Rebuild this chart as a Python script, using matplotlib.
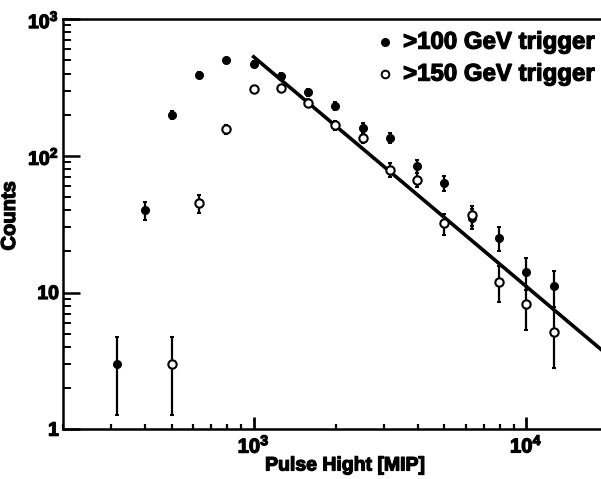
import numpy as np
import matplotlib.pyplot as plt
import matplotlib.patheffects as pe
from matplotlib.ticker import FixedLocator, LogLocator, NullFormatter

# bin centres of the pulse-height histogram [MIP]
pulse_100 = [316, 398, 501, 631, 794, 1000, 1259, 1585, 1995, 2512,
             3162, 3981, 5012, 6310, 7943, 10000, 12589]
counts_100 = [3.0, 40, 199, 390, 500, 470, 384, 293, 232, 160,
              135, 84, 63, 35, 25, 14.2, 11.1]
err_100 = [1.73, 6.3, 14, 20, 22, 22, 20, 17, 15, 12.6,
           11.6, 9.2, 7.9, 5.9, 5.0, 3.8, 3.3]

pulse_150 = [501, 631, 794, 1000, 1259, 1585, 1995, 2512,
             3162, 3981, 5012, 6310, 7943, 10000, 12589]
counts_150 = [3.0, 45, 157, 308, 313, 244, 168, 135,
              79, 67, 32, 37, 12.0, 8.2, 5.1]
err_150 = [1.73, 6.7, 12.5, 17.5, 17.7, 15.6, 13, 11.6,
           8.9, 8.2, 5.7, 6.1, 3.5, 2.9, 2.3]

# power-law fit above 1000 MIP
fit_norm = 530.0     # counts at 1000 MIP
fit_index = -1.68
fit_range = (1000, 18800)

labels = [">100 GeV trigger", ">150 GeV trigger"]

plt.rcParams['font.family'] = ['Liberation Sans', 'DejaVu Sans']
plt.rcParams['font.weight'] = 'bold'
plt.rcParams['mathtext.fontset'] = 'custom'
plt.rcParams['mathtext.rm'] = 'Liberation Sans:bold'
plt.rcParams['mathtext.bf'] = 'Liberation Sans:bold'

# thicken the bold face a little
heavy = [pe.withStroke(linewidth=0.9, foreground='black')]

fig = plt.figure(figsize=(6.01, 4.79), dpi=100)
ax = fig.add_axes([0.105, 0.104, 0.895, 0.856])
ax.set_xscale('log')
ax.set_yscale('log')
ax.set_xlim(200, 18800)
ax.set_ylim(1, 1000)

xf = np.logspace(np.log10(fit_range[0]), np.log10(fit_range[1]), 50)
ax.plot(xf, fit_norm * (xf / 1000.0) ** fit_index, color='black', lw=2.6, zorder=2)

ax.errorbar(pulse_100, counts_100, yerr=err_100, fmt='o', color='black',
            ms=5.5, elinewidth=1.6, capsize=1.5, capthick=1.4, zorder=3)
ax.errorbar(pulse_150, counts_150, yerr=err_150, fmt='o', color='black',
            mfc='white', mec='black', mew=1.5, ms=6,
            elinewidth=1.6, capsize=1.5, capthick=1.4, zorder=4)

# legend drawn as markers + text in the upper right
ax.plot([0.5985], [0.944], 'o', color='black', ms=5.5, transform=ax.transAxes, clip_on=False)
ax.plot([0.5985], [0.866], 'o', mfc='white', mec='black', mew=1.4, ms=5.5,
        transform=ax.transAxes, clip_on=False)
for yy, lab in zip([0.944, 0.866], labels):
    ax.text(0.632, yy, lab, transform=ax.transAxes, fontsize=17.3,
            fontweight='bold', va='center', ha='left', path_effects=heavy)

for s in ['left', 'bottom', 'top']:
    ax.spines[s].set_linewidth(1.8)
ax.spines['right'].set_visible(False)

ax.xaxis.set_major_locator(FixedLocator([1e3, 1e4]))
ax.set_xticklabels([r'$\mathbf{10^3}$', r'$\mathbf{10^4}$'])
ax.xaxis.set_minor_locator(LogLocator(base=10, subs=np.arange(2, 10)))
ax.xaxis.set_minor_formatter(NullFormatter())
ax.yaxis.set_major_locator(FixedLocator([1, 10, 100, 1000]))
ax.set_yticklabels(['1', '10', r'$\mathbf{10^2}$', r'$\mathbf{10^3}$'])
ax.yaxis.set_minor_locator(LogLocator(base=10, subs=np.arange(2, 10)))
ax.yaxis.set_minor_formatter(NullFormatter())

ax.tick_params(axis='y', which='major', direction='in', length=12, width=1.8,
               labelsize=14, pad=3)
ax.tick_params(axis='y', which='minor', direction='in', length=6, width=1.4)
ax.tick_params(axis='x', which='major', direction='in', length=9, width=2.0,
               labelsize=14.5, pad=4)
ax.tick_params(axis='x', which='minor', direction='in', length=3.5, width=1.6)
for t in ax.get_xticklabels() + ax.get_yticklabels():
    t.set_fontweight('bold')
    t.set_path_effects(heavy)

ax.set_xlabel("Pulse Hight [MIP]", fontsize=14, fontweight='bold', path_effects=heavy)
ax.xaxis.set_label_coords(0.524, -0.069)
ax.set_ylabel("Counts", fontsize=14.5, fontweight='bold', path_effects=heavy)
ax.yaxis.set_label_coords(-0.082, 0.52)

fig.savefig("out.png", dpi=100)
